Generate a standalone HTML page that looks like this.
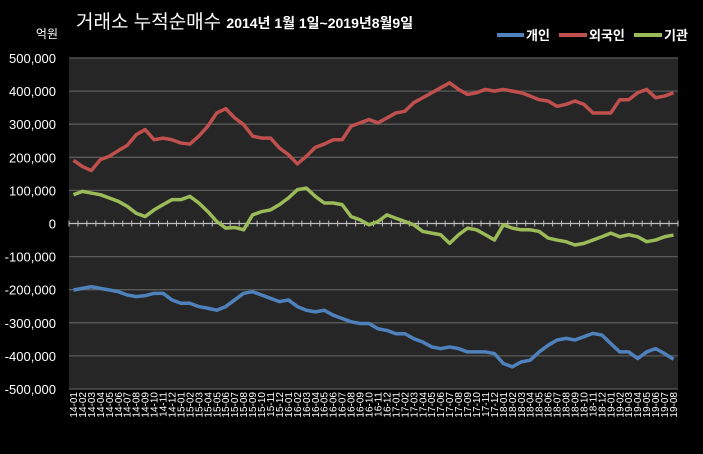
<!DOCTYPE html>
<html><head><meta charset="utf-8"><style>
html,body{margin:0;padding:0;background:#000;width:703px;height:454px;overflow:hidden}
svg{display:block;font-family:"Liberation Sans","Noto Sans CJK KR",sans-serif}
</style></head><body>
<svg id="chart" width="703" height="454">
<rect x="0" y="0" width="703" height="454" fill="#000"/>
<text x="76" y="28" fill="#fff" font-size="19">거래소 누적순매수 <tspan font-size="14" font-weight="bold">2014년 1월 1일~2019년8월9일</tspan></text>
<text x="58" y="38" fill="#fff" font-size="12" text-anchor="end">억원</text>
<g>
<g><line x1="497" y1="35" x2="524" y2="35" stroke="#4f81bd" stroke-width="4"/><text x="526" y="40" fill="#fff" font-size="13" font-weight="bold">개인</text></g>
<g><line x1="559" y1="35" x2="587" y2="35" stroke="#c0504d" stroke-width="4"/><text x="589" y="40" fill="#fff" font-size="13" font-weight="bold">외국인</text></g>
<g><line x1="634" y1="35" x2="662" y2="35" stroke="#9bbb59" stroke-width="4"/><text x="664" y="40" fill="#fff" font-size="13" font-weight="bold">기관</text></g>
</g>
<rect x="69" y="58" width="609" height="331" fill="#262626"/>
<g id="grid"></g><g id="yt"></g><g id="xt"></g><g id="series"></g>
</svg>
<script>
const months=[];for(let y=14;y<=19;y++)for(let m=1;m<=12;m++){if(y===19&&m>8)break;months.push(y+'-'+String(m).padStart(2,'0'));}
const yTicks=[500000,400000,300000,200000,100000,0,-100000,-200000,-300000,-400000,-500000];
const individual=[-201,-196,-191,-196,-201,-206,-216,-221,-218,-211,-211,-231,-241,-241,-251,-256,-262,-251,-231,-211,-206,-216,-226,-236,-231,-251,-262,-267,-262,-277,-287,-297,-302,-302,-318,-323,-333,-333,-348,-358,-373,-378,-373,-378,-388,-388,-388,-393,-423,-433,-418,-413,-388,-368,-352,-347,-352,-342,-332,-337,-363,-388,-388,-408,-388,-378,-393,-410];
const foreign=[191,172,160,193,203,220,236,268,284,253,258,253,243,240,264,294,334,347,319,299,264,258,258,228,208,180,203,230,240,253,253,294,304,314,304,319,334,339,365,380,395,410,425,405,390,395,405,400,405,400,395,385,374,370,354,360,370,360,334,334,334,374,374,395,405,380,385,395];
const institution=[87,97,92,87,77,67,52,31,21,41,57,72,72,82,62,36,6,-14,-12,-19,26,36,41,57,77,102,107,82,62,62,57,21,11,-4,6,26,16,6,-4,-24,-29,-34,-60,-34,-14,-19,-34,-50,-4,-14,-19,-19,-24,-44,-50,-55,-65,-60,-50,-40,-29,-40,-34,-40,-55,-50,-40,-35];
const L=69,R=678,T=58,B=389,NS='http://www.w3.org/2000/svg';
const sx=i=>L+(R-L)/months.length*(i+0.5);
const sy=v=>T+(500000-v)/1000000*(B-T);
function mk(t,a,p){const e=document.createElementNS(NS,t);for(const k in a)e.setAttribute(k,a[k]);p.appendChild(e);return e;}
const grid=document.getElementById('grid'),yt=document.getElementById('yt'),xt=document.getElementById('xt'),ser=document.getElementById('series');
yTicks.forEach(v=>{
 if(v!==0){const g=mk('line',{x1:L,x2:R,y1:sy(v),y2:sy(v),stroke:'#5a5a5a','stroke-width':1.3},grid);
 
 }
 const t=mk('text',{x:56,y:sy(v)+5,fill:'#fff','font-size':13,'text-anchor':'end'},yt);
 
 
 t.textContent=v.toLocaleString('en-US');
});
const ax=mk('line',{x1:L,x2:R,y1:sy(0),y2:sy(0),stroke:'#bfbfbf','stroke-width':1.3},grid);


for(let i=0;i<=months.length;i++){const x=L+(R-L)/months.length*i;
 const tk=mk('line',{x1:x,x2:x,y1:sy(0)-3,y2:sy(0)+3,stroke:'#bfbfbf','stroke-width':1},grid);
 
 }
months.forEach((m,i)=>{const x=sx(i)+3.5;
 const t=mk('text',{x:0,y:0,fill:'#fff','font-size':10,'text-anchor':'end',transform:`translate(${x},392) rotate(-90)`},xt);
 
 
 t.textContent=m;});
[[individual,'#4f81bd','series-individual'],[foreign,'#c0504d','series-foreign'],[institution,'#9bbb59','series-institution']].forEach(([d,c,n])=>{
 const p=mk('polyline',{points:d.map((v,i)=>sx(i)+','+sy(v*1000)).join(' '),fill:'none',stroke:c,'stroke-width':3.5,'stroke-linejoin':'round'},ser);
 
 
});
</script>
</body></html>
